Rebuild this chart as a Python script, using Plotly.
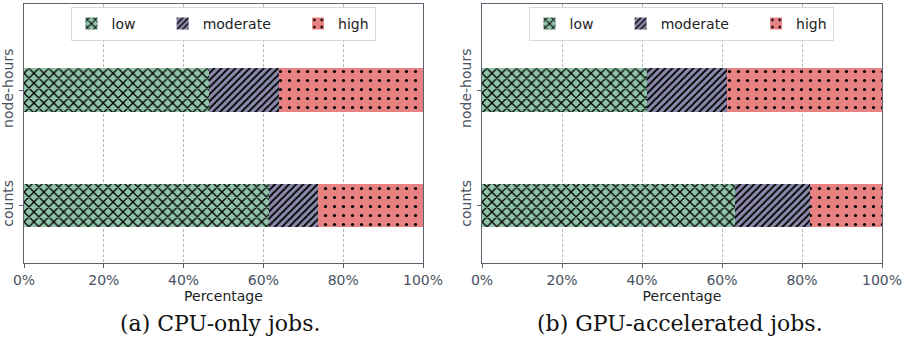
import plotly.graph_objects as go

categories = ["counts", "node-hours"]
levels = ["low", "moderate", "high"]
cpu_values = {
    "low": [61.3, 46.3],
    "moderate": [12.4, 17.6],
    "high": [26.3, 36.1],
}
gpu_values = {
    "low": [63.3, 41.2],
    "moderate": [18.8, 20.1],
    "high": [17.9, 38.7],
}
x_ticks = [0, 20, 40, 60, 80, 100]
x_ticktext = [f"{v}%" for v in x_ticks]
captions = ["(a) CPU-only jobs.", "(b) GPU-accelerated jobs."]

colors = {"low": "#8fc4a9", "moderate": "#8b8aab", "high": "#e88182"}
patterns = {
    "low": dict(shape="x", size=7, solidity=0.35),
    "moderate": dict(shape="/", size=5, solidity=0.35),
    "high": dict(shape=".", size=9, solidity=0.1),
}
legend_pad = {"low": "\u00a0" * 5, "moderate": "\u00a0" * 5, "high": ""}

W, H = 906, 341
fig = go.Figure()

ypos = [0, 1]
for i, (vals, xa, ya, lg) in enumerate([
    (cpu_values, "x", "y", "legend"),
    (gpu_values, "x2", "y2", "legend2"),
]):
    for lev in levels:
        fig.add_trace(go.Bar(
            y=ypos, x=vals[lev], orientation="h", name=lev + legend_pad[lev],
            width=0.38,
            marker=dict(color=colors[lev], line=dict(width=0),
                        pattern=dict(fgcolor="black", bgcolor=colors[lev],
                                     fillmode="replace", **patterns[lev])),
            xaxis=xa, yaxis=ya, legend=lg,
            hovertemplate=lev + ": %{x:.1f}%<extra></extra>",
        ))

axis_color = "#5a6270"
text_color = "#4a5260"
font_family = "DejaVu Sans"

def xaxis_cfg(domain):
    return dict(
        domain=domain, range=[0, 100], tickmode="array", tickvals=x_ticks, ticktext=x_ticktext,
        showgrid=True, gridcolor="#b8b8b8", griddash="3px,2px", gridwidth=1,
        showline=True, linecolor=axis_color, linewidth=1, mirror=True,
        ticks="outside", ticklen=4, tickcolor=axis_color,
        tickfont=dict(family=font_family, size=14, color=text_color),
        title=dict(text="Percentage", font=dict(family=font_family, size=14, color="#222"), standoff=0),
        zeroline=False, fixedrange=True, automargin=False,
    )

def yaxis_cfg(domain):
    return dict(
        domain=domain, range=[-0.5, 1.75], tickmode="array", tickvals=ypos, ticktext=categories,
        tickangle=-90, showgrid=False,
        showline=True, linecolor=axis_color, linewidth=1, mirror=True,
        ticks="outside", ticklen=4, tickcolor=axis_color,
        tickfont=dict(family=font_family, size=14, color=text_color),
        zeroline=False, fixedrange=True, automargin=False,
    )

ydom = [1 - 263 / H, 1 - 4 / H]
legend_cfg = dict(
    orientation="h", xanchor="center", yanchor="middle", y=1 - 24 / H,
    bgcolor="white", bordercolor="#d8d8d8", borderwidth=1,
    font=dict(family=font_family, size=14, color="#222"),
    itemwidth=30, traceorder="normal",
)

fig.update_layout(
    width=W, height=H, margin=dict(l=0, r=0, t=0, b=0),
    paper_bgcolor="white", plot_bgcolor="white",
    barmode="stack", bargap=0,
    xaxis=xaxis_cfg([24 / W, 423 / W]),
    yaxis=yaxis_cfg(ydom),
    xaxis2=dict(xaxis_cfg([482 / W, 882 / W]), anchor="y2"),
    yaxis2=dict(yaxis_cfg(ydom), anchor="x2"),
    legend=dict(legend_cfg, x=223 / W),
    legend2=dict(legend_cfg, x=681 / W),
)

for cap, cx in zip(captions, [220, 680]):
    fig.add_annotation(
        text=cap, x=cx / W, y=1 - 323 / H, xref="paper", yref="paper",
        showarrow=False, xanchor="center", yanchor="middle",
        font=dict(family="DejaVu Serif", size=22, color="#111"),
    )

fig.write_html("out.html", config={"displayModeBar": False},
               post_script="document.body.style.margin='0';")
